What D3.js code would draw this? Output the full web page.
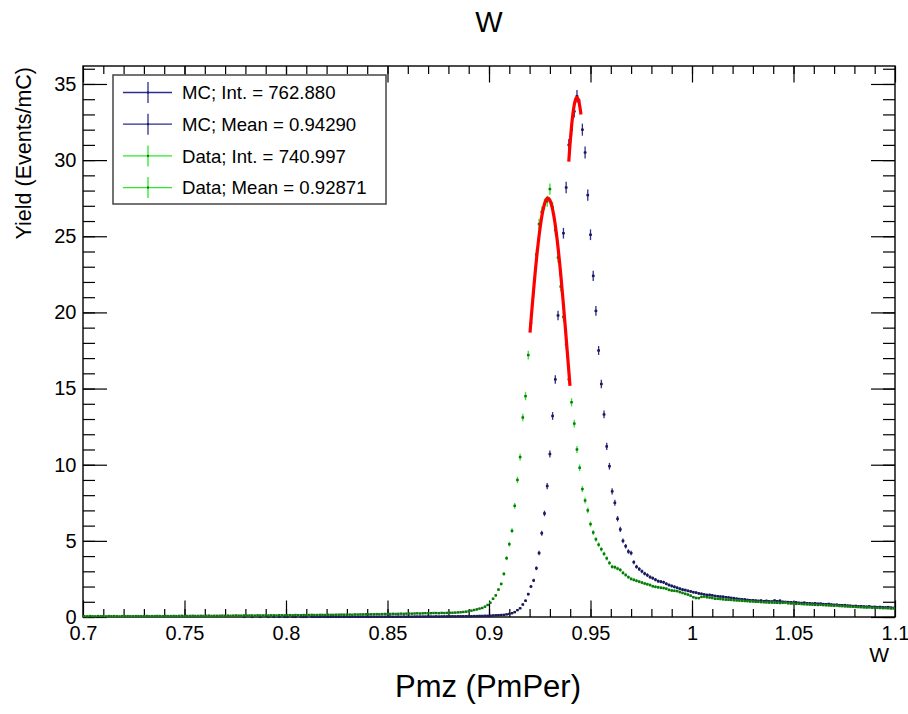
<!DOCTYPE html>
<html>
<head>
<meta charset="utf-8">
<script src="https://cdn.jsdelivr.net/npm/d3@7"></script>
<style>
  body { margin: 0; background: #fff; }
  text { font-family: "Liberation Sans", Arial, Helvetica, sans-serif; }
</style>
</head>
<body>
<svg width="908" height="714"></svg>
<script>
// histogram binning: 300 bins from 0.7 to 1.1
var xMin = 0.7, xMax = 1.1, yMax = 36.18;

var mcValues = [
  0,0,0,0,0,0,0,0,0,0,
  0,0,0,0,0,0,0,0,0,0,
  0,0,0,0,0,0,0,0,0,0,
  0,0,0,0,0,0,0,0,0,0,
  0,0,0,0,0,0,0,0,0,0,
  0,0,0,0,0,0,0,0,0,0.01,
  0,0,0.01,0,0,0.01,0,0,0.01,0,
  0.01,0,0.01,0,0.01,0.01,0,0.01,0.01,0,
  0.01,0.01,0.01,0,0.01,0.01,0.01,0.01,0.02,0.01,
  0.01,0.01,0.02,0.01,0.01,0.02,0.01,0.02,0.01,0.02,
  0.02,0.01,0.02,0.02,0.02,0.01,0.02,0.02,0.02,0.02,
  0.02,0.02,0.02,0.03,0.02,0.02,0.03,0.02,0.03,0.02,
  0.03,0.02,0.03,0.03,0.03,0.03,0.03,0.04,0.03,0.03,
  0.04,0.03,0.04,0.04,0.04,0.04,0.05,0.04,0.05,0.05,
  0.05,0.05,0.06,0.05,0.06,0.06,0.07,0.07,0.08,0.08,
  0.09,0.1,0.11,0.12,0.13,0.14,0.17,0.2,0.25,0.32,
  0.45,0.57,0.82,1.07,1.5,2.0,2.4,3.2,4.2,5.5,
  6.8,8.6,10.7,13.2,15.6,19.8,22.5,25.2,28.2,31.0,
  32.0,33.2,34.2,33.6,32.0,30.5,27.7,25.1,22.4,20.1,
  17.5,15.3,13.3,11.2,9.9,8.25,7.5,6.45,5.75,5.0,
  4.65,4.3,4.2,3.6,3.3,3.15,3.0,2.85,2.75,2.62,
  2.55,2.45,2.35,2.32,2.28,2.18,2.1,2.04,1.98,1.92,
  1.86,1.8,1.77,1.72,1.68,1.63,1.6,1.55,1.52,1.48,
  1.45,1.45,1.42,1.38,1.36,1.34,1.33,1.3,1.28,1.25,
  1.24,1.2,1.18,1.16,1.15,1.12,1.1,1.1,1.08,1.06,
  1.08,1.04,1.06,1.03,1.02,1.08,1.04,1.07,1.0,0.99,
  0.98,0.97,0.95,0.96,0.93,0.92,0.94,0.9,0.9,0.88,
  0.9,0.87,0.88,0.85,0.84,0.86,0.82,0.8,0.81,0.78,
  0.77,0.78,0.75,0.74,0.72,0.73,0.7,0.71,0.69,0.68,
  0.7,0.66,0.67,0.65,0.66,0.64,0.63,0.65,0.62,0.6
];

var dataValues = [
  0.05,0.04,0.06,0.05,0.04,0.06,0.05,0.05,0.04,0.06,
  0.05,0.06,0.05,0.04,0.06,0.05,0.06,0.05,0.05,0.06,
  0.06,0.05,0.06,0.07,0.05,0.06,0.06,0.07,0.06,0.05,
  0.07,0.06,0.06,0.07,0.06,0.07,0.08,0.06,0.07,0.07,
  0.08,0.07,0.07,0.08,0.07,0.08,0.09,0.07,0.08,0.08,
  0.08,0.09,0.08,0.09,0.08,0.09,0.1,0.09,0.09,0.1,
  0.09,0.1,0.1,0.09,0.11,0.1,0.1,0.11,0.1,0.11,
  0.11,0.1,0.12,0.11,0.11,0.12,0.12,0.11,0.13,0.12,
  0.12,0.13,0.12,0.13,0.14,0.13,0.13,0.14,0.14,0.13,
  0.15,0.14,0.14,0.15,0.15,0.16,0.15,0.16,0.16,0.15,
  0.17,0.16,0.17,0.17,0.18,0.17,0.18,0.18,0.19,0.18,
  0.19,0.2,0.19,0.2,0.21,0.2,0.21,0.22,0.21,0.22,
  0.23,0.22,0.23,0.24,0.23,0.24,0.25,0.24,0.25,0.26,
  0.26,0.25,0.27,0.26,0.27,0.28,0.28,0.29,0.3,0.31,
  0.33,0.35,0.37,0.42,0.46,0.5,0.55,0.59,0.68,0.79,
  0.94,1.2,1.42,1.8,2.17,2.83,3.86,4.78,5.66,7.3,
  9.0,10.5,13.1,14.5,17.2,19.3,21.3,23.8,25.8,26.6,
  27.1,27.3,28.1,26.9,25.4,23.6,21.7,19.7,17.9,15.6,
  14.1,12.7,11.0,9.8,8.4,7.65,7.0,6.1,5.55,5.1,
  4.75,4.45,4.15,3.85,3.55,3.3,3.27,3.18,3.09,2.9,
  2.76,2.62,2.5,2.44,2.38,2.32,2.26,2.2,2.15,2.1,
  2.02,1.98,1.95,1.92,1.9,1.86,1.78,1.74,1.72,1.7,
  1.64,1.58,1.52,1.47,1.4,1.3,1.25,1.24,1.32,1.34,
  1.3,1.28,1.25,1.2,1.2,1.18,1.16,1.14,1.13,1.12,
  1.1,1.09,1.08,1.06,1.05,1.04,1.02,1.02,1.0,1.0,
  0.98,0.97,0.96,0.95,0.95,0.94,0.93,0.92,0.93,0.94,
  0.9,0.89,0.88,0.86,0.87,0.85,0.84,0.83,0.82,0.81,
  0.8,0.79,0.8,0.78,0.77,0.76,0.75,0.74,0.75,0.72,
  0.71,0.7,0.69,0.68,0.67,0.66,0.65,0.64,0.63,0.62,
  0.63,0.61,0.6,0.6,0.59,0.58,0.58,0.57,0.56,0.56
];

// gaussian fits (MC peak, Data peak)
var fitAmp = [34.1, 27.5];
var fitMean = [0.9433, 0.9290];
var fitSigma = [0.0078, 0.0100];
var fitLo = [0.9393, 0.9202];
var fitHi = [0.9453, 0.9399];

var legendLabels = ["MC; Int. = 762.880", "MC; Mean = 0.94290",
  "Data; Int. = 740.997", "Data; Mean = 0.92871"];

var xTicks = [0.7, 0.75, 0.8, 0.85, 0.9, 0.95, 1, 1.05, 1.1];
var yTicks = [0, 5, 10, 15, 20, 25, 30, 35];

var mcColor = "#2e2e8c", mcMarker = "#1a1a55";
var dataColor = "#2ae82a", dataMarker = "#147014";

var svg = d3.select("svg"),
  width = +svg.attr("width"),
  height = +svg.attr("height");

var margin = {left: 83, right: 13, top: 66, bottom: 97};

var x = d3.scaleLinear().domain([xMin, xMax]).range([margin.left, width - margin.right]);
var y = d3.scaleLinear().domain([0, yMax]).range([height - margin.bottom, margin.top]);

var binW = (xMax - xMin) / mcValues.length;

// axes: major + minor, ticks pointing inside the frame
var xMinor = d3.range(71, 110).map(function (d) { return d / 100; });
var yMinor = d3.range(0, 37);

function drawAxis(axis, tx, ty) {
  var g = svg.append("g").attr("transform", "translate(" + tx + "," + ty + ")").call(axis);
  g.select(".domain").remove();
  g.selectAll("line").attr("stroke", "#000").attr("stroke-width", 1.2);
  return g;
}

var fmtX = function (d) { return d3.format("")(+d.toFixed(2)); };

var gx = drawAxis(d3.axisBottom(x).tickValues(xTicks).tickSize(-16.5).tickPadding(9).tickFormat(fmtX), 0, y(0));
gx.selectAll("text").attr("font-size", 20).attr("fill", "#000");
drawAxis(d3.axisBottom(x).tickValues(xMinor).tickSize(-8).tickFormat(""), 0, y(0));
drawAxis(d3.axisTop(x).tickValues(xTicks).tickSize(-16.5).tickFormat(""), 0, margin.top);
drawAxis(d3.axisTop(x).tickValues(xMinor).tickSize(-8).tickFormat(""), 0, margin.top);

var gy = drawAxis(d3.axisLeft(y).tickValues(yTicks).tickSize(-24).tickPadding(6.5), margin.left, 0);
gy.selectAll("text").attr("font-size", 20).attr("fill", "#000");
drawAxis(d3.axisLeft(y).tickValues(yMinor).tickSize(-12).tickFormat(""), margin.left, 0);
drawAxis(d3.axisRight(y).tickValues(yTicks).tickSize(-24).tickFormat(""), width - margin.right, 0);
drawAxis(d3.axisRight(y).tickValues(yMinor).tickSize(-12).tickFormat(""), width - margin.right, 0);

svg.append("rect")
  .attr("x", margin.left).attr("y", margin.top)
  .attr("width", width - margin.left - margin.right)
  .attr("height", height - margin.top - margin.bottom)
  .attr("fill", "none").attr("stroke", "#000").attr("stroke-width", 1.4);

// histogram points with error bars
var errScale = 0.07;

function drawHist(values, color, marker) {
  var pts = values.map(function (v, i) {
    return {lo: xMin + i * binW, hi: xMin + (i + 1) * binW, c: xMin + (i + 0.5) * binW, v: v};
  }).filter(function (d) { return d.v > 0; });

  var g = svg.append("g");
  var p = g.selectAll("g").data(pts).enter().append("g");
  p.append("line")
    .attr("x1", function (d) { return x(d.lo); })
    .attr("x2", function (d) { return x(d.hi); })
    .attr("y1", function (d) { return y(d.v); })
    .attr("y2", function (d) { return y(d.v); })
    .attr("stroke", color).attr("stroke-width", 1.4);
  p.append("line")
    .attr("x1", function (d) { return x(d.c); })
    .attr("x2", function (d) { return x(d.c); })
    .attr("y1", function (d) { return y(d.v - errScale * Math.sqrt(d.v)); })
    .attr("y2", function (d) { return y(d.v + errScale * Math.sqrt(d.v)); })
    .attr("stroke", color).attr("stroke-width", 1.3);
  p.append("rect")
    .attr("x", function (d) { return x(d.c) - 1.2; })
    .attr("y", function (d) { return y(d.v) - 1.2; })
    .attr("width", 2.4).attr("height", 2.4)
    .attr("fill", marker);
}

drawHist(mcValues, mcColor, mcMarker);
drawHist(dataValues, dataColor, dataMarker);

// fit curves
var fitLine = d3.line()
  .x(function (d) { return x(d[0]); })
  .y(function (d) { return y(d[1]); })
  .curve(d3.curveLinear);

fitAmp.forEach(function (a, k) {
  var n = 60;
  var pts = d3.range(n + 1).map(function (j) {
    var xv = fitLo[k] + (fitHi[k] - fitLo[k]) * j / n;
    var z = (xv - fitMean[k]) / fitSigma[k];
    return [xv, a * Math.exp(-0.5 * z * z)];
  });
  svg.append("path").datum(pts)
    .attr("d", fitLine)
    .attr("fill", "none")
    .attr("stroke", "#ff0000")
    .attr("stroke-width", 3.2);
});

// legend
var legend = svg.append("g");
legend.append("rect")
  .attr("x", 113).attr("y", 75).attr("width", 273).attr("height", 129)
  .attr("fill", "#fff").attr("stroke", "#444").attr("stroke-width", 1.5);

var legendColors = [mcColor, mcColor, dataColor, dataColor];
var legendMarkers = [mcMarker, mcMarker, dataMarker, dataMarker];

legendLabels.forEach(function (lab, i) {
  var cy = 92.5 + i * 31.7;
  legend.append("line").attr("x1", 123).attr("x2", 172).attr("y1", cy).attr("y2", cy)
    .attr("stroke", legendColors[i]).attr("stroke-width", 1.3);
  legend.append("line").attr("x1", 148).attr("x2", 148).attr("y1", cy - 10.5).attr("y2", cy + 10.5)
    .attr("stroke", legendColors[i]).attr("stroke-width", 1.3);
  legend.append("rect").attr("x", 147).attr("y", cy - 1).attr("width", 2).attr("height", 2)
    .attr("fill", legendMarkers[i]);
  legend.append("text").attr("x", 182).attr("y", cy + 6.8)
    .attr("font-size", 18.6).attr("fill", "#000").text(lab);
});

// titles
svg.append("text").attr("x", 489).attr("y", 32).attr("text-anchor", "middle")
  .attr("font-size", 29).attr("fill", "#000").text("W");

svg.append("text").attr("x", 889).attr("y", 662).attr("text-anchor", "end")
  .attr("font-size", 21).attr("fill", "#000").text("W");

svg.append("text").attr("x", 488).attr("y", 697).attr("text-anchor", "middle")
  .attr("font-size", 31).attr("fill", "#000").text("Pmz (PmPer)");

svg.append("text")
  .attr("transform", "translate(31,67) rotate(-90)")
  .attr("text-anchor", "end")
  .attr("font-size", 21.5).attr("fill", "#000")
  .text("Yield (Events/mC)");
</script>
</body>
</html>
